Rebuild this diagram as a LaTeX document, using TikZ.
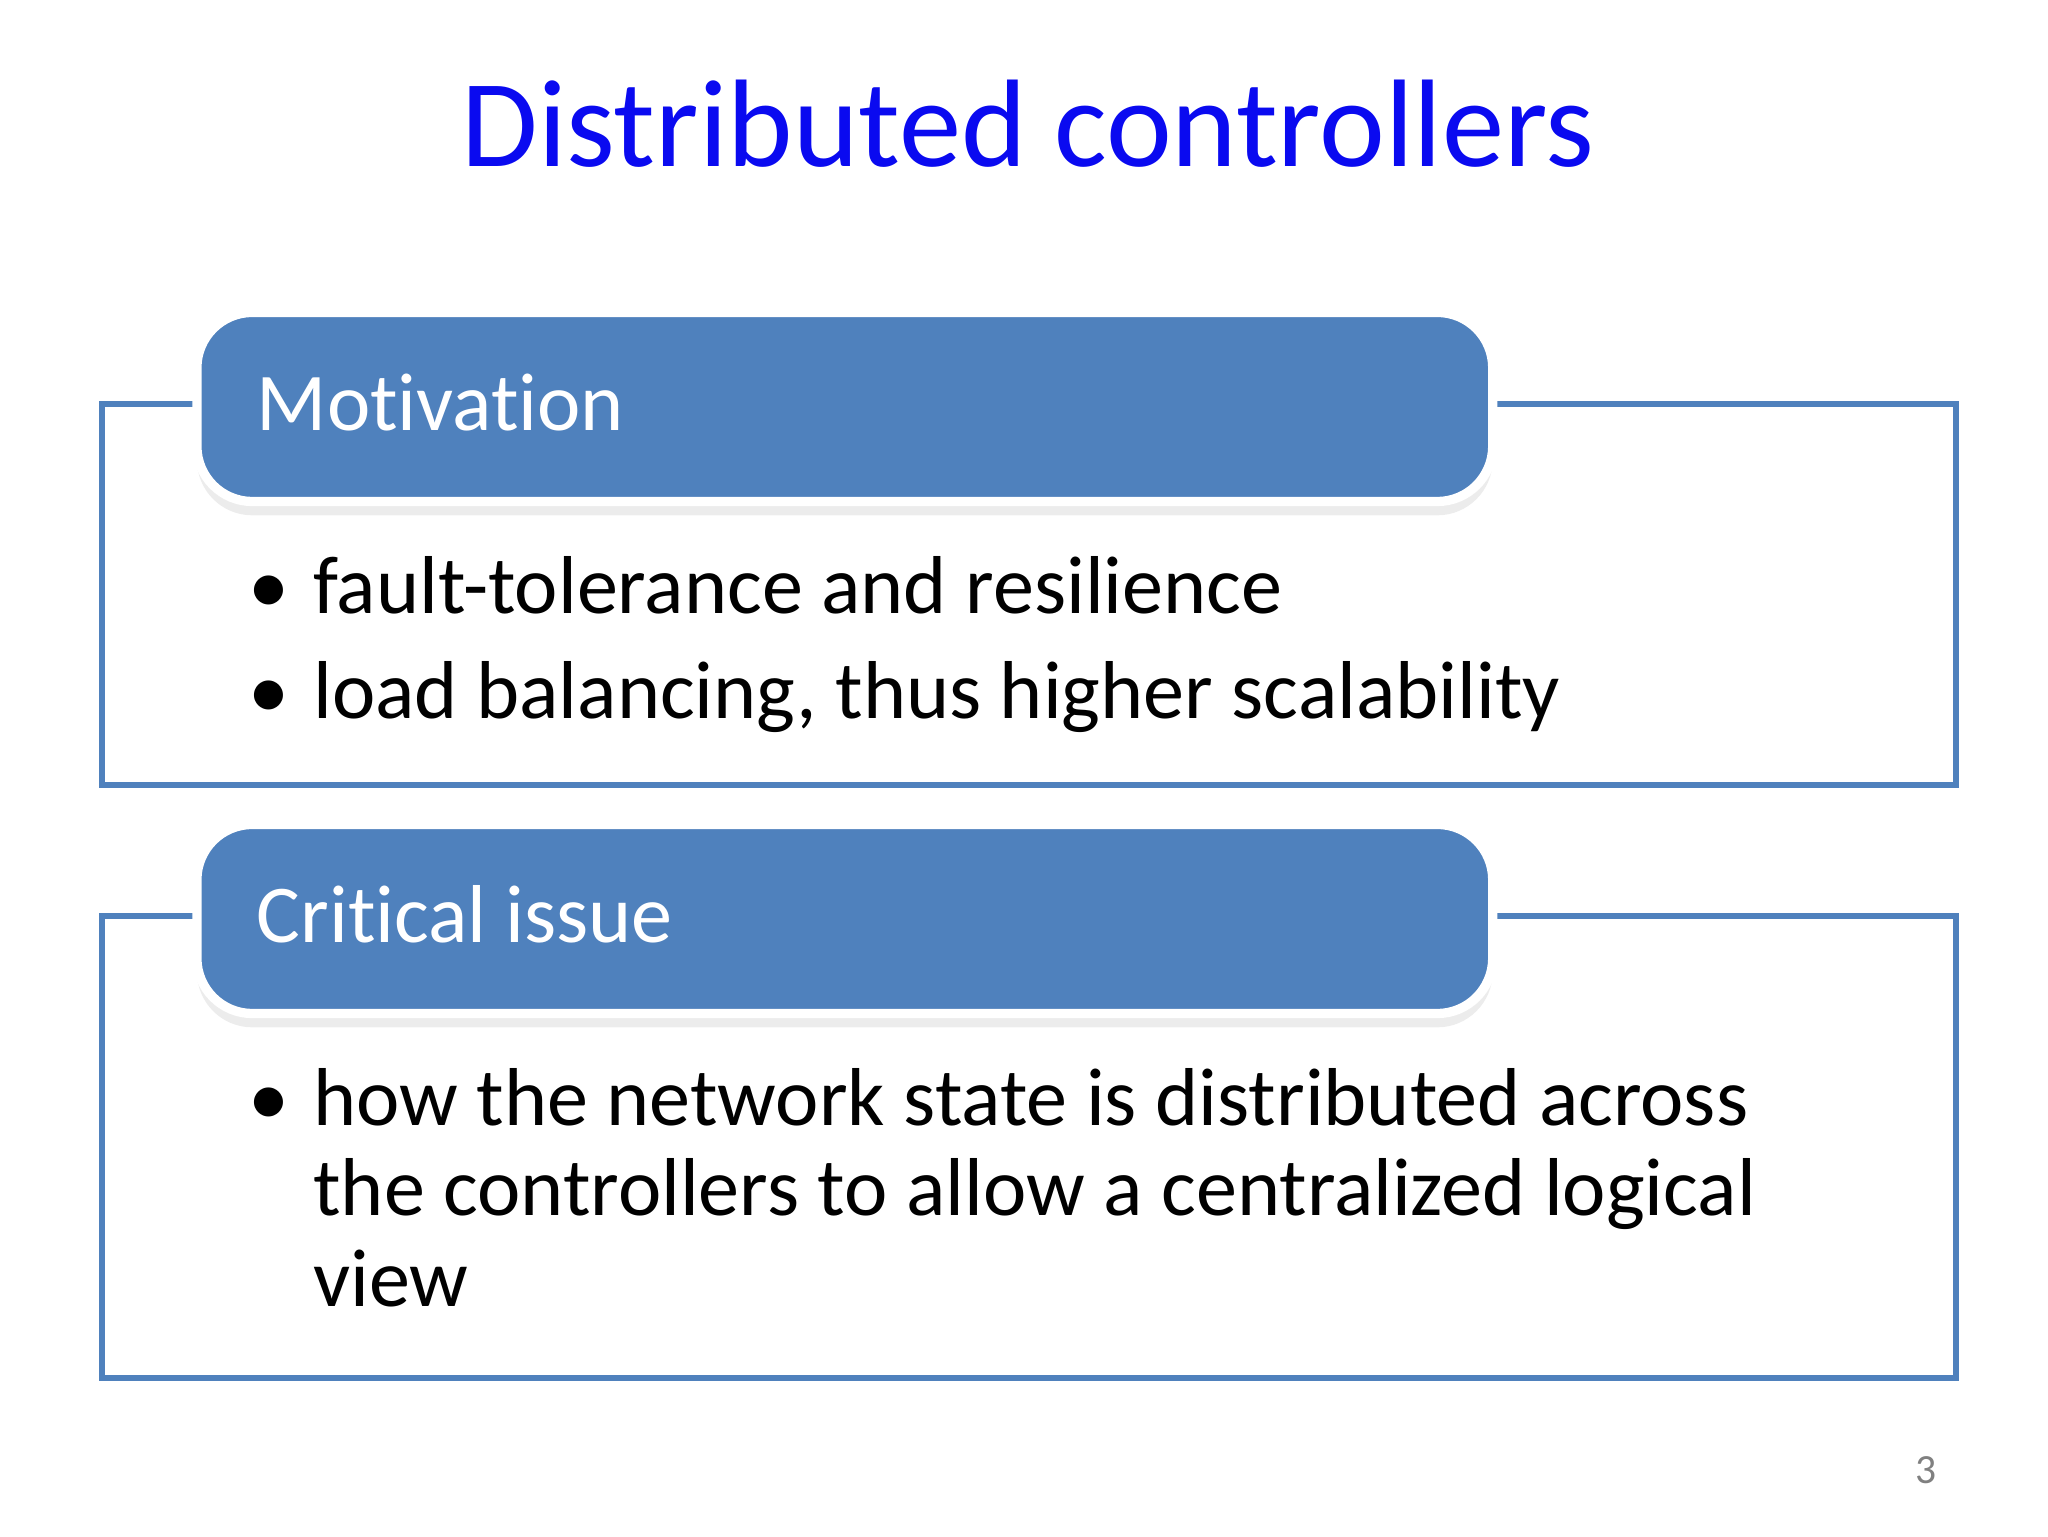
\documentclass[tikz,border=0pt]{standalone}
\usepackage{fontspec}
\setmainfont[Ligatures={NoCommon,NoRare}]{Carlito}
\usetikzlibrary{shadows}
\definecolor{acc}{HTML}{4F81BD}
\definecolor{ttl}{HTML}{0A0AF0}
\tikzset{
 outerbox/.style={draw=acc,line width=1.3pt},
 headbox/.style={fill=acc,draw=white,line width=2pt,rounded corners=12pt,drop shadow={shadow xshift=0pt,shadow yshift=-3pt,opacity=0.15}},
 headtxt/.style={anchor=base west,text=white,font=\fontsize{17.8}{21}\selectfont,inner sep=0pt},
 bodytxt/.style={anchor=base west,font=\fontsize{17.8}{21}\selectfont,inner sep=0pt,align=left},
 bul/.style={anchor=base,font=\fontsize{17.8}{21}\selectfont,inner sep=0pt}
}
\begin{document}
\begin{tikzpicture}[x=1cm,y=1cm]
\useasboundingbox (0,0) rectangle (15.6,-11.7);
\node (title) [anchor=base,text=ttl,font=\fontsize{27}{31}\selectfont,inner sep=0pt] at (7.83,-1.27) {Distributed controllers};
% box 1
\draw[outerbox] (0.78,-3.08) rectangle (14.9,-5.98);
\path[headbox] (1.5,-2.38) rectangle (11.37,-3.82);
\node (h1) [headtxt] at (1.95,-3.28) {Motivation};
\node (b1) [bul] at (2.05,-4.67) {•};
\node (t1) [bodytxt] at (2.38,-4.67) {fault-tolerance and resilience};
\node (b2) [bul] at (2.05,-5.47) {•};
\node (t2) [bodytxt] at (2.38,-5.47) {load balancing, thus higher scalability};
% box 2
\draw[outerbox] (0.78,-6.98) rectangle (14.9,-10.5);
\path[headbox] (1.5,-6.28) rectangle (11.37,-7.72);
\node (h2) [headtxt] at (1.95,-7.18) {Critical issue};
\node (b3) [bul] at (2.05,-8.57) {•};
\node (t3) [bodytxt] at (2.38,-8.57) {how the network state is distributed across};
\node (t4) [bodytxt] at (2.38,-9.26) {the controllers to allow a centralized logical};
\node (t5) [bodytxt] at (2.38,-9.95) {view};
\node (pg) [anchor=base,text=gray,font=\fontsize{9}{10}\selectfont,inner sep=0pt] at (14.67,-11.3) {3};
\end{tikzpicture}
\end{document}
